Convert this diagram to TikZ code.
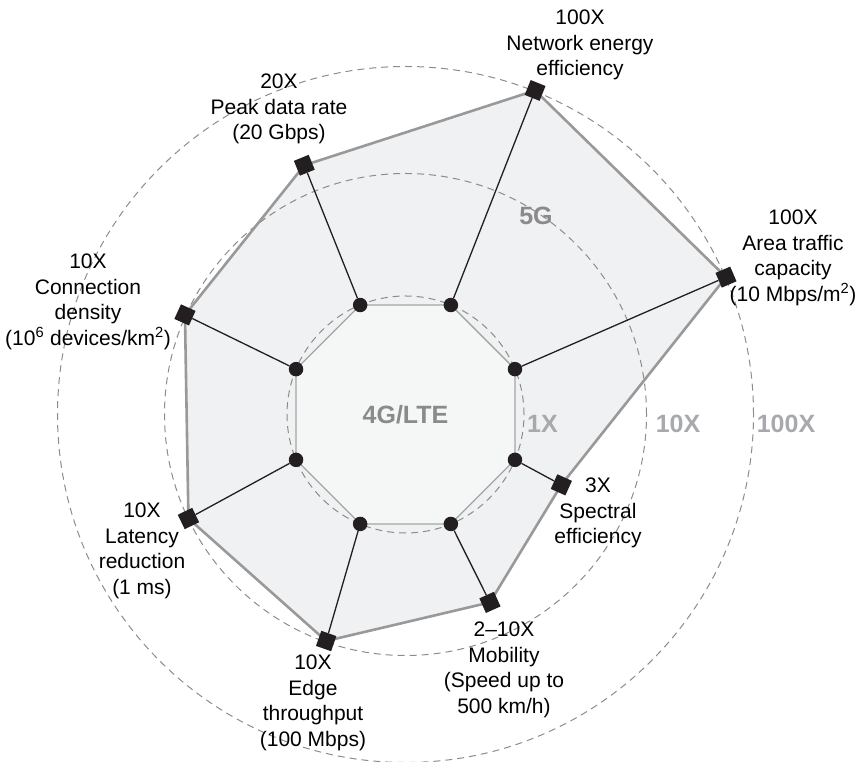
\documentclass[tikz,border=0pt]{standalone}
\usepackage{fontspec}
\setmainfont{Liberation Sans}
\definecolor{fivegfill}{RGB}{240,241,243}
\definecolor{fourgfill}{RGB}{245,246,246}
\definecolor{edgegray}{RGB}{153,153,153}
\definecolor{octgray}{RGB}{165,165,165}
\definecolor{ringgray}{RGB}{140,140,140}
\definecolor{darklab}{RGB}{138,138,140}
\definecolor{lightlab}{RGB}{168,169,172}
\definecolor{markblack}{RGB}{35,31,32}
\begin{document}
\begin{tikzpicture}[x=1pt,y=1pt,
  lbl/.style={font=\fontsize{21}{25.5}\selectfont, align=center, text=black, inner sep=0},
  biglbl/.style={font=\fontsize{25}{30}\selectfont\bfseries, inner sep=0},
  dotnode/.style={circle, fill=markblack, inner sep=0, minimum size=14.5},
  sqnode/.style={rectangle, fill=markblack, inner sep=0, minimum size=16},
  ring/.style={draw=ringgray, line width=1, dash pattern=on 7 off 5},
  link/.style={draw=markblack, line width=1.3},
]
\useasboundingbox (0,0) rectangle (861,762);
\coordinate (c) at (405.5,347.5);

% 4G/LTE octagon corners
\foreach \a [count=\i] in {67.5,22.5,-22.5,-67.5,-112.5,-157.5,157.5,112.5}
  \coordinate (p\i) at ([shift={(\a:118.5)}]c);

% 5G corners: angle, radius
\foreach \a/\r [count=\i] in {68.2/349, 23.2/348.7, -24.3/171, -65.8/206,
                              -109.3/240, -154.4/240.7, 155.7/242, 112.1/269}
  \coordinate (q\i) at ([shift={(\a:\r)}]c);

% 5G area
\fill[fivegfill] (q1) -- (q2) -- (q3) -- (q4) -- (q5) -- (q6) -- (q7) -- (q8) -- cycle;

% 4G/LTE area
\filldraw[fill=fourgfill, draw=octgray, line width=1.3]
  (p1) -- (p2) -- (p3) -- (p4) -- (p5) -- (p6) -- (p7) -- (p8) -- cycle;

% scale rings 1X, 10X, 100X
\draw[ring] (c) circle[radius=118.5];
\draw[ring] (c) circle[radius=241];
\draw[ring] (c) circle[radius=348];

% 5G outline
\draw[edgegray, line width=2.6, line join=miter]
  (q1) -- (q2) -- (q3) -- (q4) -- (q5) -- (q6) -- (q7) -- (q8) -- cycle;

% markers
\foreach \i in {1,...,8}
  \node[dotnode] (d\i) at (p\i) {};
\foreach \a [count=\i] in {68.2, 23.2, -24.3, -65.8, -109.3, -154.4, 155.7, 112.1}
  \node[sqnode, rotate=\a] (s\i) at (q\i) {};

% spokes from 4G to 5G
\foreach \i in {1,...,8}
  \draw[link] (d\i) -- (s\i);

% centre and ring labels
\node[biglbl, text=darklab] (lte) at (405.5,347.5) {4G/LTE};
\node[biglbl, text=darklab] (fiveg) at (536,546) {5G};
\node[biglbl, text=lightlab] (r1) at (542.5,338) {1X};
\node[biglbl, text=lightlab] (r10) at (678,338) {10X};
\node[biglbl, text=lightlab] (r100) at (786,338) {100X};

% metric labels
\node[lbl] (tenergy) at (580,717) {100X\\Network energy\\efficiency};
\node[lbl] (tpeak) at (279,653) {20X\\Peak data rate\\(20 Gbps)};
\node[lbl] (tarea) at (793,504) {100X\\Area traffic\\capacity\\(10 Mbps/m\textsuperscript{2})};
\node[lbl] (tconn) at (88,460) {10X\\Connection\\density\\(10\textsuperscript{6} devices/km\textsuperscript{2})};
\node[lbl] (tspec) at (598,249) {3X\\Spectral\\efficiency};
\node[lbl] (tlat) at (142,211) {10X\\Latency\\reduction\\(1 ms)};
\node[lbl] (tedge) at (313,59) {10X\\Edge\\throughput\\(100 Mbps)};
\node[lbl] (tmob) at (504,92) {2--10X\\Mobility\\(Speed up to\\500 km/h)};
\end{tikzpicture}
\end{document}
